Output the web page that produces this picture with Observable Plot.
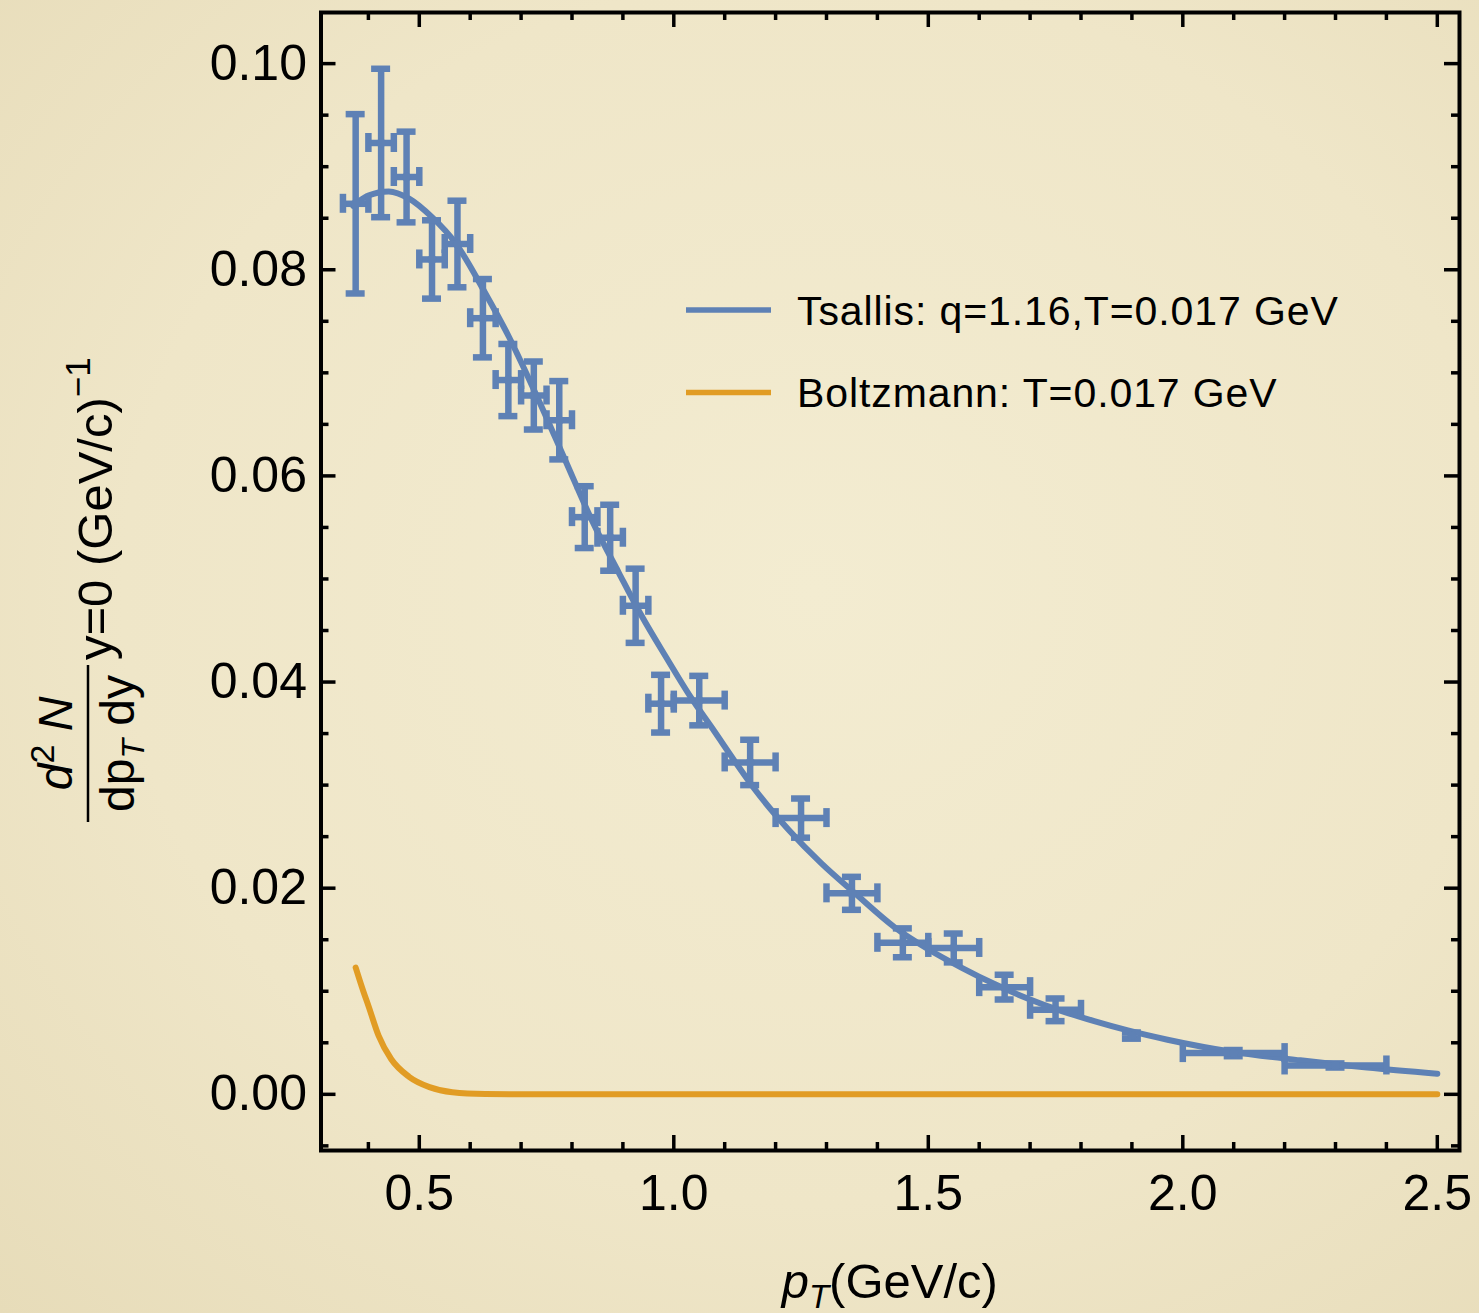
<!DOCTYPE html>
<html><head><meta charset="utf-8">
<script src="https://cdn.jsdelivr.net/npm/d3@7"></script>
<script src="https://cdn.jsdelivr.net/npm/@observablehq/plot@0.6"></script>
<style>
html,body{margin:0;padding:0;}
body{width:1479px;height:1313px;overflow:hidden;
 background: radial-gradient(ellipse at 55% 45%, #f3ecd1 0%, #efe6c8 60%, #e7dcb9 100%);}
#chart{position:relative;width:1479px;height:1313px;}
</style></head><body><div id="chart"></div>
<script>
// ---- data points (pT, yield, errors) ----
const ptX    = [0.375,0.425,0.475,0.525,0.575,0.625,0.675,0.725,0.775,0.825,0.875,0.925,0.975,1.05,1.15,1.25,1.35,1.45,1.55,1.65,1.75,1.9,2.1,2.3];
const ptY    = [0.0864,0.0923,0.0890,0.0810,0.0825,0.0753,0.0693,0.0678,0.0654,0.0560,0.0540,0.0474,0.0379,0.0382,0.0322,0.0268,0.0195,0.0147,0.0142,0.0104,0.0082,0.0057,0.0040,0.0028];
const ptXErr = [0.025,0.025,0.025,0.025,0.025,0.025,0.025,0.025,0.025,0.025,0.025,0.025,0.025,0.05,0.05,0.05,0.05,0.05,0.05,0.05,0.05,0,0.1,0.1];
const ptYErr = [0.0087,0.0072,0.0044,0.0038,0.0042,0.0038,0.0035,0.0033,0.0038,0.0030,0.0032,0.0036,0.0028,0.0024,0.0022,0.0019,0.0016,0.0014,0.0014,0.0012,0.0011,0.0003,0.0003,0.0002];

// ---- Tsallis fit curve ----
const tsallisX = [0.37,0.40,0.44,0.48,0.525,0.571,0.63,0.676,0.735,0.787,0.839,0.892,0.937,0.985,1.031,1.08,1.12,1.159,1.225,1.29,1.356,1.434,1.499,1.565,1.63,1.695,1.761,1.826,1.892,1.97,2.10,2.231,2.362,2.5];
const tsallisY = [0.0862,0.0872,0.0876,0.0869,0.0851,0.0826,0.0777,0.0735,0.0673,0.0615,0.0557,0.0506,0.0464,0.0424,0.0387,0.0352,0.0323,0.0296,0.0257,0.0224,0.0195,0.0162,0.0141,0.0123,0.0107,0.0093,0.0081,0.0071,0.0062,0.0053,0.0041,0.0033,0.0026,0.0020];

// ---- Boltzmann curve ----
const boltzX = [0.375,0.39,0.40,0.42,0.445,0.48,0.52,0.565,0.63,0.70,1.0,1.5,2.0,2.5];
const boltzY = [0.0123,0.0100,0.0086,0.0057,0.0034,0.0017,0.0007,0.0002,0.00003,0,0,0,0,0];

// ---- ticks ----
const xMajor = [0.5,1.0,1.5,2.0,2.5];
const xMinor = [0.4,0.6,0.7,0.8,0.9,1.1,1.2,1.3,1.4,1.6,1.7,1.8,1.9,2.1,2.2,2.3,2.4];
const yMajor = [0,0.02,0.04,0.06,0.08,0.10];
const yMinor = [-0.005,0.005,0.01,0.015,0.025,0.03,0.035,0.045,0.05,0.055,0.065,0.07,0.075,0.085,0.09,0.095];

const legendLabels = ["Tsallis: q=1.16,T=0.017 GeV","Boltzmann: T=0.017 GeV"];

const W=1479,H=1313,mL=320.5,mR=20,mT=12,mB=163;
const PW=W-mL-mR, PH=H-mT-mB;
const blue="#5E81B5", orange="#E19C24";
const FONT="'Liberation Sans', Arial, Helvetica, sans-serif";

const points = ptX.map((x,i)=>({x, y:ptY[i], xe:ptXErr[i], ye:ptYErr[i]}));
const hPts = points.filter(d=>d.xe>0);
const tsallis = tsallisX.map((x,i)=>({x, y:tsallisY[i]}));
const boltz = boltzX.map((x,i)=>({x, y:boltzY[i]}));
const eb = {stroke: blue, strokeWidth: 6.5};
const tk = {stroke: "black", strokeWidth: 3.5};

const plot = Plot.plot({
  width: W, height: H, marginLeft: mL, marginRight: mR, marginTop: mT, marginBottom: mB,
  style: {background: "transparent", fontFamily: FONT, color: "black", overflow: "visible"},
  x: {domain: [0.3069, 2.5436]},
  y: {domain: [-0.00545, 0.10496]},
  marks: [
    Plot.line(boltz, {x:"x", y:"y", stroke: orange, strokeWidth: 6, curve: "monotone-x"}),
    Plot.line(tsallis, {x:"x", y:"y", stroke: blue, strokeWidth: 6, curve: "monotone-x"}),
    // vertical error bars + caps
    Plot.ruleX(points, {x:"x", y1: d=>d.y-d.ye, y2: d=>d.y+d.ye, ...eb}),
    Plot.ruleY(points, {y: d=>d.y-d.ye, x1:"x", x2:"x", insetLeft:-9.5, insetRight:-9.5, ...eb}),
    Plot.ruleY(points, {y: d=>d.y+d.ye, x1:"x", x2:"x", insetLeft:-9.5, insetRight:-9.5, ...eb}),
    // horizontal error bars + caps
    Plot.ruleY(hPts, {y:"y", x1: d=>d.x-d.xe, x2: d=>d.x+d.xe, ...eb}),
    Plot.ruleX(hPts, {x: d=>d.x-d.xe, y1:"y", y2:"y", insetTop:-9.5, insetBottom:-9.5, ...eb}),
    Plot.ruleX(hPts, {x: d=>d.x+d.xe, y1:"y", y2:"y", insetTop:-9.5, insetBottom:-9.5, ...eb}),
    Plot.dot(points, {x:"x", y:"y", r: 4.5, fill: blue}),
    // frame ticks (inward, all four sides)
    Plot.ruleX(xMajor, {insetTop: PH-15, ...tk}),
    Plot.ruleX(xMinor, {insetTop: PH-8, ...tk}),
    Plot.ruleX(xMajor, {insetBottom: PH-15, ...tk}),
    Plot.ruleX(xMinor, {insetBottom: PH-8, ...tk}),
    Plot.ruleY(yMajor, {insetRight: PW-15, ...tk}),
    Plot.ruleY(yMinor, {insetRight: PW-8, ...tk}),
    Plot.ruleY(yMajor, {insetLeft: PW-15, ...tk}),
    Plot.ruleY(yMinor, {insetLeft: PW-8, ...tk}),
    Plot.frame({stroke: "black", strokeWidth: 4}),
    Plot.axisX({ticks: xMajor, tickSize: 0, tickPadding: 24, tickFormat: d3.format(".1f"), fontSize: 50, label: null}),
    Plot.axisY({ticks: yMajor, tickSize: 0, tickPadding: 14, tickFormat: d3.format(".2f"), fontSize: 50, label: null})
  ]
});
document.getElementById("chart").appendChild(plot);

const svg = d3.select(plot);
// legend
const leg = svg.append("g").attr("font-family", FONT).attr("font-size", 41).attr("fill", "black")
  .attr("text-anchor", "start");
[[blue, 310, 325], [orange, 392.5, 407]].forEach(([c, ly, ty], i) => {
  leg.append("line").attr("x1", 686).attr("x2", 771).attr("y1", ly).attr("y2", ly)
     .attr("stroke", c).attr("stroke-width", 5.5);
  leg.append("text").attr("x", 797).attr("y", ty).attr("text-anchor", "start")
     .attr("letter-spacing", 0.9).text(legendLabels[i]);
});

// x axis label
const xl = svg.append("text").attr("x", mL + PW/2).attr("y", 1298).attr("text-anchor", "middle")
  .attr("font-family", FONT).attr("font-size", 49).attr("fill", "black");
xl.append("tspan").attr("font-style", "italic").text("p");
xl.append("tspan").attr("font-style", "italic").attr("font-size", 33).attr("dy", 10).text("T");
xl.append("tspan").attr("dy", -10).text("(GeV/c)");

// y axis label (rotated)
const yl = svg.append("g").attr("transform", "rotate(-90)").attr("font-family", FONT).attr("fill", "black");
yl.append("line").attr("x1", -822).attr("x2", -665).attr("y1", 88).attr("y2", 88)
  .attr("stroke", "black").attr("stroke-width", 2.5);
const num = yl.append("text").attr("x", -743.5).attr("y", 72).attr("text-anchor", "middle").attr("font-size", 48);
num.append("tspan").attr("font-style", "italic").text("d");
num.append("tspan").attr("font-size", 34).attr("dy", -18).text("2");
num.append("tspan").attr("font-style", "italic").attr("dy", 18).text(" N");
const den = yl.append("text").attr("x", -743.5).attr("y", 134).attr("text-anchor", "middle").attr("font-size", 48);
den.append("tspan").text("dp");
den.append("tspan").attr("font-style", "italic").attr("font-size", 32).attr("dy", 10).text("T");
den.append("tspan").attr("dy", -10).text(" dy");
const unit = yl.append("text").attr("x", -660).attr("y", 112).attr("text-anchor", "start").attr("font-size", 49);
unit.append("tspan").text("y=0 (GeV/c)");
unit.append("tspan").attr("font-size", 35).attr("dy", -22).text("\u22121");
</script>
</body></html>
